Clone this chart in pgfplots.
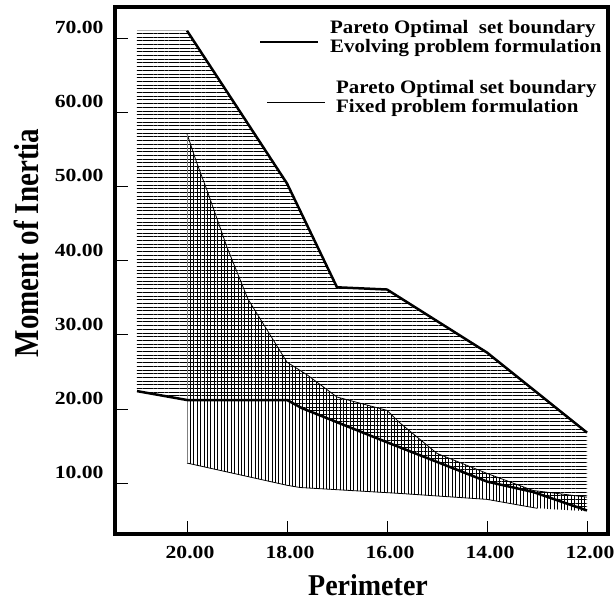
\documentclass[border=0pt]{standalone}
\usepackage{fontspec}
\setmainfont{Liberation Serif}
\newfontfamily\tickfont[FakeStretch=1.17]{Liberation Serif}
\newfontfamily\legfont[FakeStretch=1.1]{Liberation Serif}
\usepackage{pgfplots}
\pgfplotsset{compat=1.18}
\usetikzlibrary{patterns.meta}

\begin{document}
\begin{tikzpicture}
\begin{axis}[
  scale only axis, width=493bp, height=527bp,
  at={(0,0)}, anchor=south west,
  x dir=reverse, xmin=11.58, xmax=21.44, ymin=3.13, ymax=74.2,
  axis line style={line width=3.5bp},
  tick pos=left, tick align=inside,
  major tick length=13bp,
  tick style={black, line width=0.8bp},
  xtick={12,14,16,18,20}, xticklabels={12.00,14.00,16.00,18.00,20.00},
  ytick={10,20,30,40,50,60,70}, yticklabels={10.00,20.00,30.00,40.00,50.00,60.00,70.00},
  xticklabel style={font=\tickfont\bfseries\fontsize{18.5bp}{20bp}\selectfont, xshift=3bp, yshift=-9bp},
  yticklabel style={font=\tickfont\bfseries\fontsize{18.5bp}{20bp}\selectfont, yshift=10.5bp, xshift=-8bp},
  clip=true,
]
% Evolving problem formulation region (horizontal hatching)
\addplot[draw=none, pattern={Lines[angle=0,distance=3.7bp,line width=0.7bp]}] coordinates {
 (21,71) (20,71) (18,50.4) (17,36.4) (16,36.1) (14,27.6) (12,16.8)
 (12,6.3) (13.08,8.8) (14,10.2) (16,15.5) (17.7,20.1) (18,21.2) (20,21.2) (21,22.4)
} -- cycle;
% Fixed problem formulation region (vertical hatching)
\addplot[draw=none, pattern={Lines[angle=90,distance=3.4bp,line width=0.65bp]}] coordinates {
 (20,57.1) (19.8,53.1) (19.6,49.5) (19.2,41.8) (18.78,34.8) (18,26.3) (17.6,24.6) (17,21.6)
 (16,19.8) (15.74,18.1) (15,14.0) (14,11.3) (13.08,9.0) (12,8.1)
 (12,6.2) (13,6.6) (14,7.8) (15.74,8.6) (17.74,9.4) (18,9.7) (20,12.7)
} -- cycle;
% boundaries: fixed
\addplot[black, line width=0.8bp] coordinates {
 (20,57.1) (19.8,53.1) (19.6,49.5) (19.2,41.8) (18.78,34.8) (18,26.3) (17.6,24.6) (17,21.6)
 (16,19.8) (15.74,18.1) (15,14.0) (14,11.3) (13.08,9.0) (12,8.1)};
\addplot[black, line width=0.8bp] coordinates {
 (20,12.7) (18,9.7) (17.74,9.4) (15.74,8.6) (14,7.8) (13,6.6)};
\addplot[gray, line width=0.8bp] coordinates {(20,12.7) (20,57.1)};
\addplot[gray!60, line width=0.8bp] coordinates {(21,71) (20,71)};
% boundaries: evolving
\addplot[black, line width=2.5bp] coordinates {
 (20,71) (18,50.4) (17,36.4) (16,36.1) (14,27.6) (12,16.8)};
\addplot[black, line width=2.5bp] coordinates {
 (21,22.4) (20,21.2) (18,21.2) (17.7,20.1) (16,15.5) (14,10.2) (13.08,8.8) (12,6.3)};
\end{axis}
% legend
\draw[black, line width=2.5bp] (145bp,492bp) -- (203bp,492bp);
\draw[black, line width=0.8bp] (152bp,432bp) -- (210bp,432bp);
\begin{scope}[every node/.style={anchor=base west, inner sep=0pt, font=\legfont\bfseries\fontsize{19bp}{20bp}\selectfont}]
\node at (215bp,500bp) {Pareto Optimal\ \ set boundary};
\node at (215bp,481bp) {Evolving problem formulation};
\node at (221bp,440bp) {Pareto Optimal set boundary};
\node at (221bp,421bp) {Fixed problem formulation};
\end{scope}
% axis titles
\node[anchor=base, rotate=90, inner sep=0pt, font=\bfseries\fontsize{29bp}{32bp}\selectfont] at (-76bp,291bp) {\scalebox{1}[1.2]{Moment of Inertia}};
\node[anchor=base, inner sep=0pt, font=\bfseries\fontsize{28bp}{32bp}\selectfont] at (253bp,-61bp) {\scalebox{1}[1.08]{Perimeter}};
\pgfresetboundingbox
\path (-115bp,-69bp) rectangle (499bp,534bp);
\end{tikzpicture}
\end{document}
